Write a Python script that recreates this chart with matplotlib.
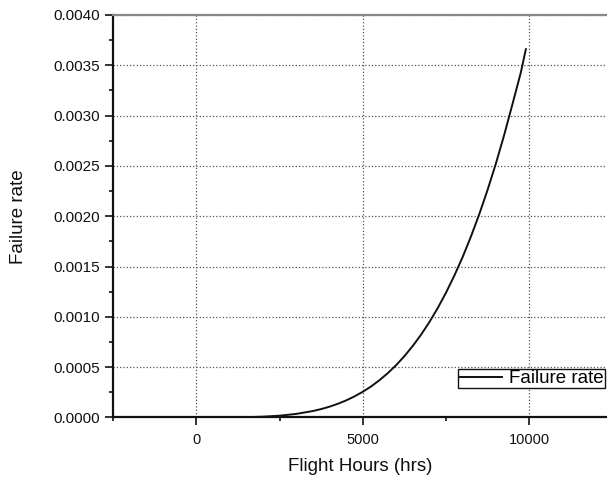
import matplotlib
matplotlib.use("Agg")
import matplotlib.pyplot as plt
from matplotlib.ticker import MultipleLocator, FormatStrFormatter

plt.rcParams['font.family'] = ['Liberation Sans', 'DejaVu Sans']

# Data
flight_hours = [0, 500, 1000, 1500, 2000, 2500, 3000, 3500, 3750, 4000, 4250,
                4500, 4750, 5000, 5250, 5500, 5750, 6000, 6250, 6500, 6750,
                7000, 7250, 7500, 7750, 8000, 8250, 8500, 8750, 9000, 9250,
                9500, 9750, 9900]
failure_rate = [0.0, 0.00000003, 0.0000005, 0.0000023, 0.0000071, 0.0000171,
                0.0000348, 0.0000634, 0.000083, 0.0001068, 0.0001353,
                0.0001691, 0.0002088, 0.000255, 0.000308, 0.00037, 0.00044,
                0.000519, 0.000609, 0.00071, 0.000822, 0.000947, 0.001086,
                0.00124, 0.001409, 0.001594, 0.001798, 0.00202, 0.002262,
                0.002524, 0.002809, 0.003117, 0.00343, 0.00366]
series_label = "Failure rate"
x_label = "Flight Hours (hrs)"
y_label = "Failure rate"

W, H = 607, 483
fig = plt.figure(figsize=(W / 100, H / 100), dpi=100)
left, right = 113.3 / W, 606.7 / W
bottom, top = 1 - 417.4 / H, 1 - 15 / H
ax = fig.add_axes([left, bottom, right - left, top - bottom])

ax.plot(flight_hours, failure_rate, color='#111111', lw=1.4, label=series_label)

ax.set_xlim(-2500, 12330)
ax.set_ylim(0, 0.004)

ax.xaxis.set_major_locator(MultipleLocator(5000))
ax.xaxis.set_minor_locator(MultipleLocator(2500))
ax.yaxis.set_major_locator(MultipleLocator(0.0005))
ax.yaxis.set_minor_locator(MultipleLocator(0.00025))
ax.yaxis.set_major_formatter(FormatStrFormatter('%.4f'))

ax.tick_params(axis='both', which='major', direction='out', length=6, width=1.2,
               colors='#111111')
ax.tick_params(axis='both', which='minor', direction='out', length=3.2, width=1.2,
               colors='#111111')
ax.tick_params(axis='x', which='major', pad=5.5, labelsize=10.5)
ax.tick_params(axis='y', which='major', pad=3.5, labelsize=11)

ax.grid(True, which='major', linestyle=':', color='#555555', lw=0.9)

for s in ['left', 'bottom']:
    ax.spines[s].set_linewidth(1.6)
    ax.spines[s].set_color('#111111')
ax.spines['top'].set_color('#888888')
ax.spines['top'].set_linewidth(1.6)
ax.spines['right'].set_visible(False)

ax.set_xlabel(x_label, fontsize=13.5, labelpad=8, color='#111111')
ax.set_ylabel(y_label, fontsize=13.5, labelpad=19, color='#111111')

leg = ax.legend(loc='lower right', bbox_to_anchor=(605 / W, 1 - 388.3 / H),
                bbox_transform=fig.transFigure, fontsize=13.5, frameon=True,
                fancybox=False, borderpad=0.05, borderaxespad=0,
                handlelength=2.3, handletextpad=0.4)
leg.get_frame().set_edgecolor('#111111')
leg.get_frame().set_linewidth(1.0)
leg.get_frame().set_alpha(1)

fig.savefig("out.png", dpi=100)
